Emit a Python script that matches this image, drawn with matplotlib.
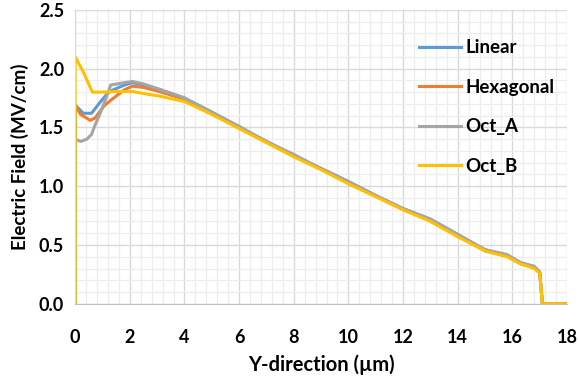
import matplotlib.pyplot as plt
from matplotlib.ticker import MultipleLocator

plt.rcParams['font.family'] = ['Lato', 'DejaVu Sans']

# data
x_linear = [0, 0, 0.3, 0.6, 0.9, 1.15, 1.3, 1.8, 2.1, 2.5, 3, 4, 5, 6, 7, 8, 9, 10, 11, 12, 13, 14, 15, 15.8, 16.3, 16.8, 17.0, 17.1, 18]
y_linear = [0, 1.69, 1.62, 1.62, 1.71, 1.78, 1.81, 1.86, 1.88, 1.86, 1.83, 1.75, 1.63, 1.50, 1.38, 1.26, 1.15, 1.04, 0.92, 0.81, 0.72, 0.59, 0.46, 0.41, 0.35, 0.31, 0.27, 0.0, 0.0]

x_hex = [0, 0, 0.2, 0.55, 0.73, 1.05, 1.3, 1.8, 2.1, 2.5, 3, 4, 5, 6, 7, 8, 9, 10, 11, 12, 13, 14, 15, 15.8, 16.3, 16.8, 17.0, 17.1, 18]
y_hex = [0, 1.69, 1.61, 1.56, 1.58, 1.68, 1.73, 1.82, 1.85, 1.84, 1.81, 1.74, 1.62, 1.50, 1.38, 1.26, 1.15, 1.03, 0.92, 0.80, 0.71, 0.58, 0.45, 0.41, 0.34, 0.31, 0.27, 0.0, 0.0]

x_octa = [0, 0, 0.2, 0.43, 0.6, 0.73, 0.9, 1.1, 1.3, 1.8, 2.1, 2.5, 3, 4, 5, 6, 7, 8, 9, 10, 11, 12, 13, 14, 15, 15.8, 16.3, 16.8, 17.0, 17.1, 18]
y_octa = [0, 1.40, 1.38, 1.40, 1.44, 1.52, 1.61, 1.73, 1.86, 1.88, 1.89, 1.87, 1.83, 1.75, 1.63, 1.51, 1.38, 1.27, 1.15, 1.04, 0.92, 0.81, 0.72, 0.59, 0.46, 0.42, 0.35, 0.32, 0.27, 0.0, 0.0]

x_octb = [0, 0, 0.3, 0.63, 1.0, 1.5, 2.1, 2.7, 3, 4, 5, 6, 7, 8, 9, 10, 11, 12, 13, 14, 15, 15.8, 16.3, 16.8, 17.0, 17.1, 18]
y_octb = [0, 2.10, 1.97, 1.80, 1.80, 1.805, 1.805, 1.78, 1.77, 1.72, 1.61, 1.49, 1.37, 1.25, 1.14, 1.02, 0.91, 0.80, 0.70, 0.57, 0.45, 0.40, 0.34, 0.30, 0.26, 0.0, 0.0]

fig = plt.figure(figsize=(5.78, 3.76), dpi=100)
ax = fig.add_axes([0.13, 0.192, 0.851, 0.782])

ax.plot(x_linear, y_linear, color='#5B9BD5', lw=2.2, label='Linear')
ax.plot(x_hex, y_hex, color='#ED7D31', lw=2.2, label='Hexagonal')
ax.plot(x_octa, y_octa, color='#A5A5A5', lw=2.2, label='Oct_A')
ax.plot(x_octb, y_octb, color='#FFC000', lw=2.2, label='Oct_B')

ax.set_xlim(0, 18)
ax.set_ylim(0, 2.5)
ax.xaxis.set_major_locator(MultipleLocator(2))
ax.xaxis.set_minor_locator(MultipleLocator(0.4))
ax.yaxis.set_major_locator(MultipleLocator(0.5))
ax.yaxis.set_minor_locator(MultipleLocator(0.1))
ax.yaxis.set_major_formatter(lambda v, p: '%.1f' % v)

ax.grid(which='major', color='#D9D9D9', lw=1.0)
ax.grid(which='minor', color='#EDEDED', lw=0.9)
ax.set_axisbelow(True)
for s in ['top', 'right']:
    ax.spines[s].set_visible(False)
ax.spines['left'].set_color('#D9D9D9')
ax.spines['bottom'].set_color('#BFBFBF')
ax.tick_params(which='both', length=0, labelsize=13)
ax.tick_params(axis='x', pad=18)
ax.tick_params(axis='y', pad=8)
for lbl in ax.get_xticklabels() + ax.get_yticklabels():
    lbl.set_fontweight('bold')

ax.set_xlabel('Y-direction (µm)', fontsize=14.5, fontweight='bold', labelpad=6)
ax.set_ylabel('Electric Field (MV/cm)', fontsize=13.5, fontweight='bold', labelpad=7)

leg = ax.legend(loc='upper left', bbox_to_anchor=(0.70, 0.90), frameon=False,
                prop={'weight': 'bold', 'size': 13.5}, handlelength=2.2,
                handletextpad=0.25, labelspacing=1.2, borderpad=0, borderaxespad=0)

fig.savefig('out.png', dpi=100)
